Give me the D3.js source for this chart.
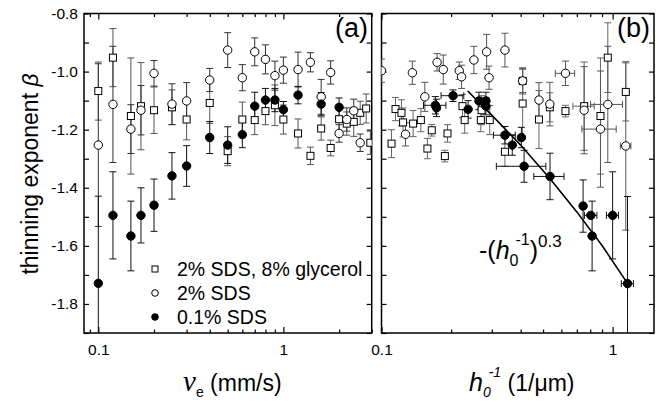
<!DOCTYPE html>
<html>
<head>
<meta charset="utf-8">
<script src="https://cdn.jsdelivr.net/npm/d3@7"></script>
<style>
  body { margin: 0; background: #fff; }
  text { font-family: 'Liberation Sans', Arial, sans-serif; fill: #000; }
</style>
</head>
<body>
<div class="canvas"></div>
<script>
// tick values
const yTicks = [-1.8, -1.6, -1.4, -1.2, -1.0, -0.8];
const yMinor = [-1.9, -1.7, -1.5, -1.3, -1.1, -0.9];
const xMajor = [0.1, 1];
const xMinorA = [0.09, 0.2, 0.3, 0.4, 0.5, 0.6, 0.7, 0.8, 0.9, 2, 3];
const xMinorB = [0.2, 0.3, 0.4, 0.5, 0.6, 0.7, 0.8, 0.9];
const legendLabels = ['2% SDS, 8% glycerol', '2% SDS', '0.1% SDS'];

// panel (a): [v_e, beta, beta error]
const aGlycerol = [
  [0.1, -1.067, 0.10], [0.12, -0.952, 0.10], [0.15, -1.153, 0.20], [0.17, -1.119, 0.15],
  [0.2, -1.133, 0.08], [0.25, -1.123, 0.06], [0.3, -1.165, 0.07], [0.4, -1.108, 0.07],
  [0.5, -1.274, 0.05], [0.6, -1.165, 0.06], [0.7, -1.167, 0.05], [0.8, -1.136, 0.047],
  [0.9, -1.116, 0.07], [1.0, -1.165, 0.05], [1.2, -1.213, 0.05], [1.4, -1.290, 0.03],
  [1.6, -1.196, 0.04], [1.8, -1.263, 0.027], [2.0, -1.164, 0.04], [2.2, -1.179, 0.04],
  [2.4, -1.173, 0.05], [2.6, -1.142, 0.04], [2.8, -1.127, 0.05], [2.95, -1.245, 0.04]
];
const aSds2 = [
  [0.1, -1.253, 0.28], [0.12, -1.113, 0.2], [0.15, -1.198, 0.084], [0.17, -1.133, 0.085],
  [0.2, -1.006, 0.044], [0.25, -1.112, 0.07], [0.3, -1.101, 0.063], [0.4, -1.029, 0.04],
  [0.5, -0.926, 0.06], [0.6, -1.021, 0.045], [0.7, -0.932, 0.048], [0.8, -0.958, 0.05],
  [0.9, -1.014, 0.05], [1.0, -0.995, 0.045], [1.2, -0.993, 0.06], [1.4, -0.968, 0.033],
  [1.6, -1.087, 0.06], [1.8, -1.003, 0.04], [2.0, -1.213, 0.03], [2.2, -1.165, 0.04],
  [2.4, -1.135, 0.04], [2.6, -1.245, 0.03]
];
const aSds01 = [
  [0.1, -1.729, 0.3], [0.12, -1.495, 0.15], [0.15, -1.566, 0.12], [0.17, -1.495, 0.095],
  [0.2, -1.460, 0.09], [0.25, -1.359, 0.08], [0.3, -1.325, 0.07], [0.4, -1.227, 0.055],
  [0.5, -1.253, 0.063], [0.6, -1.217, 0.045], [0.7, -1.119, 0.048], [0.8, -1.098, 0.04],
  [0.9, -1.098, 0.04], [1.0, -1.131, 0.028], [1.2, -1.081, 0.03], [1.6, -1.112, 0.04],
  [2.0, -1.123, 0.032]
];

// panel (b): [1/h0, beta, beta error, 1/h0 error]
const bGlycerol = [
  [0.1105, -1.248, 0.048, 0], [0.115, -1.129, 0.04, 0], [0.122, -1.142, 0.045, 0],
  [0.124, -1.175, 0.05, 0], [0.137, -1.179, 0.045, 0], [0.148, -1.167, 0.04, 0],
  [0.158, -1.265, 0.035, 0], [0.165, -1.202, 0.02, 0], [0.188, -1.291, 0.02, 0],
  [0.193, -1.213, 0.03, 0], [0.224, -1.119, 0.04, 0], [0.229, -1.167, 0.045, 0],
  [0.269, -1.167, 0.04, 0], [0.271, -1.133, 0.05, 0], [0.294, -1.167, 0.05, 0],
  [0.342, -1.276, 0.05, 0], [0.408, -1.032, 0.04, 0], [0.408, -1.110, 0.12, 0],
  [0.48, -1.165, 0.1, 0], [0.535, -1.123, 0.05, 0], [0.625, -1.136, 0.02, 0],
  [0.753, -1.119, 0.152, 0.08], [0.886, -1.153, 0.2, 0], [0.953, -0.952, 0.12, 0],
  [1.14, -1.070, 0.1, 0]
];
const bSds2 = [
  [0.1, -0.997, 0.04, 0], [0.127, -1.216, 0.04, 0], [0.136, -1.004, 0.04, 0],
  [0.154, -1.087, 0.05, 0], [0.174, -0.968, 0.03, 0], [0.185, -0.993, 0.05, 0],
  [0.217, -0.997, 0.03, 0], [0.222, -1.018, 0.04, 0], [0.251, -0.960, 0.047, 0],
  [0.285, -0.932, 0.06, 0], [0.292, -1.021, 0.04, 0], [0.342, -0.926, 0.058, 0],
  [0.408, -1.032, 0.045, 0], [0.48, -1.098, 0.06, 0], [0.535, -1.112, 0.075, 0],
  [0.625, -1.006, 0.042, 0.06], [0.753, -1.133, 0.15, 0], [0.886, -1.198, 0.2, 0.15],
  [0.953, -1.113, 0.2, 0.15], [1.14, -1.256, 0.29, 0.06]
];
const bSds01 = [
  [0.171, -1.116, 0.03, 0.019], [0.173, -1.125, 0.03, 0], [0.204, -1.083, 0.02, 0.023],
  [0.237, -1.130, 0.03, 0], [0.264, -1.101, 0.03, 0], [0.283, -1.101, 0.03, 0],
  [0.283, -1.119, 0.03, 0], [0.342, -1.219, 0.03, 0.037], [0.368, -1.253, 0.035, 0],
  [0.403, -1.227, 0.035, 0], [0.414, -1.326, 0.055, 0.1], [0.536, -1.361, 0.08, 0.08],
  [0.745, -1.463, 0.09, 0], [0.805, -1.495, 0, 0.05], [0.815, -1.566, 0.12, 0],
  [1.0, -1.495, 0.15, 0.06], [1.16, -1.730, 0.3, 0.07]
];
// fitted curve -(1/h0)^0.3
const fitCurve = [
  [0.236, -1.067], [0.3, -1.150], [0.4, -1.253], [0.535, -1.368],
  [0.7, -1.483], [0.9, -1.599], [1.16, -1.729]
];

const W = 659, H = 402;
const svg = d3.select('.canvas').append('svg').attr('width', W).attr('height', H);

const y = d3.scaleLinear().domain([-1.9, -0.8]).range([333, 13.5]);
const xA = d3.scaleLog().domain([0.0837, 3.0]).range([84, 371.7]);
const xB = d3.scaleLog().domain([0.1, 1.51]).range([381.5, 654]);

function drawFrame(x, id) {
  const [x0, x1] = x.range();
  const g = svg.append('g');
  // bottom major / minor
  g.append('g').attr('transform', `translate(0,333)`)
    .call(d3.axisBottom(x).tickValues(xMajor).tickSize(-6).tickPadding(11).tickFormat(d3.format('')))
    .call(s => s.selectAll('text').attr('font-size', 15.5).attr('font-family', 'Liberation Sans, Arial'));
  g.append('g').attr('transform', `translate(0,333)`)
    .call(d3.axisBottom(x).tickValues(id === 'a' ? xMinorA : xMinorB).tickSize(-3.5).tickFormat(''));
  // top
  g.append('g').attr('transform', `translate(0,13.5)`)
    .call(d3.axisTop(x).tickValues(xMajor).tickSize(-6).tickFormat(''));
  g.append('g').attr('transform', `translate(0,13.5)`)
    .call(d3.axisTop(x).tickValues(id === 'a' ? xMinorA : xMinorB).tickSize(-3.5).tickFormat(''));
  // left / right
  const left = g.append('g').attr('transform', `translate(${x0},0)`)
    .call(d3.axisLeft(y).tickValues(yTicks).tickSize(-5).tickPadding(6)
      .tickFormat(id === 'a' ? d3.format('.1f') : ''));
  left.selectAll('text').attr('font-size', 15.5).text(d => id === 'a' ? d3.format('.1f')(d).replace('−', '-') : '');
  g.append('g').attr('transform', `translate(${x0},0)`)
    .call(d3.axisLeft(y).tickValues(yMinor).tickSize(-5).tickFormat(''));
  g.append('g').attr('transform', `translate(${x1},0)`)
    .call(d3.axisRight(y).tickValues(yTicks.concat(yMinor)).tickSize(-5).tickFormat(''));
  g.selectAll('.domain').remove();
  g.selectAll('.tick line').attr('stroke', '#000').attr('stroke-width', 1.2);
  g.append('rect').attr('x', x0).attr('y', 13.5).attr('width', x1 - x0).attr('height', 333 - 13.5)
    .attr('fill', 'none').attr('stroke', '#000').attr('stroke-width', 1.5);

  svg.append('clipPath').attr('id', 'clip-' + id).append('rect')
    .attr('x', x0).attr('y', 13.5).attr('width', x1 - x0).attr('height', 333 - 13.5);
  return svg.append('g').attr('clip-path', `url(#clip-${id})`);
}

const gA = drawFrame(xA, 'a');
const gB = drawFrame(xB, 'b');

const cap = 3.5;
function errorBars(g, x, data, color) {
  const eg = g.append('g').attr('stroke', color).attr('stroke-width', 1).attr('fill', 'none');
  data.forEach(d => {
    const cx = x(d[0]);
    if (d[2] > 0) {
      const yt = y(d[1] + d[2]), yb = y(d[1] - d[2]);
      eg.append('line').attr('x1', cx).attr('x2', cx).attr('y1', yt).attr('y2', yb);
      eg.append('line').attr('x1', cx - cap).attr('x2', cx + cap).attr('y1', yt).attr('y2', yt);
      eg.append('line').attr('x1', cx - cap).attr('x2', cx + cap).attr('y1', yb).attr('y2', yb);
    }
    if (d[3] > 0) {
      const cy = y(d[1]), xl = x(d[0] - d[3]), xr = x(d[0] + d[3]);
      eg.append('line').attr('x1', xl).attr('x2', xr).attr('y1', cy).attr('y2', cy);
      eg.append('line').attr('x1', xl).attr('x2', xl).attr('y1', cy - cap).attr('y2', cy + cap);
      eg.append('line').attr('x1', xr).attr('x2', xr).attr('y1', cy - cap).attr('y2', cy + cap);
    }
  });
}

function squares(g, x, data) {
  g.append('g').selectAll('rect').data(data).enter().append('rect')
    .attr('x', d => x(d[0]) - 3.5).attr('y', d => y(d[1]) - 3.5)
    .attr('width', 7).attr('height', 7)
    .attr('fill', '#fff').attr('stroke', '#000').attr('stroke-width', 1);
}
function circles(g, x, data, filled) {
  g.append('g').selectAll('circle').data(data).enter().append('circle')
    .attr('cx', d => x(d[0])).attr('cy', d => y(d[1])).attr('r', 4.2)
    .attr('fill', filled ? '#000' : '#fff').attr('stroke', '#000').attr('stroke-width', 1);
}

// panel a
errorBars(gA, xA, aGlycerol, '#555');
errorBars(gA, xA, aSds2, '#333');
errorBars(gA, xA, aSds01, '#111');
squares(gA, xA, aGlycerol);
circles(gA, xA, aSds2, false);
circles(gA, xA, aSds01, true);

// panel b
errorBars(gB, xB, bGlycerol, '#666');
errorBars(gB, xB, bSds2, '#555');
errorBars(gB, xB, bSds01, '#111');
squares(gB, xB, bGlycerol);
circles(gB, xB, bSds2, false);
circles(gB, xB, bSds01, true);

gB.append('path').datum(fitCurve)
  .attr('d', d3.line().x(d => xB(d[0])).y(d => y(d[1])))
  .attr('fill', 'none').attr('stroke', '#000').attr('stroke-width', 1.6);

// panel labels
svg.append('text').attr('x', 368).attr('y', 37).attr('text-anchor', 'end')
  .attr('font-size', 27).text('(a)');
svg.append('text').attr('x', 650).attr('y', 37).attr('text-anchor', 'end')
  .attr('font-size', 27).text('(b)');

// legend
const legend = svg.append('g').attr('transform', 'translate(155,269)');
legendLabels.forEach((lab, i) => {
  const row = legend.append('g').attr('transform', `translate(0,${i * 24})`);
  if (i === 0) row.append('rect').attr('x', -3).attr('y', -3).attr('width', 6).attr('height', 6)
    .attr('fill', '#fff').attr('stroke', '#000');
  else row.append('circle').attr('r', 3.3).attr('fill', i === 2 ? '#000' : '#fff').attr('stroke', '#000');
  row.append('text').attr('x', 22).attr('y', 7).attr('font-size', 19.5).text(lab);
});

// fit annotation
const ann = svg.append('text').attr('x', 479).attr('y', 259).attr('font-size', 25);
ann.append('tspan').text('-(');
ann.append('tspan').attr('font-style', 'italic').text('h');
ann.append('tspan').attr('font-size', 16).attr('dy', 7).text('0');
ann.append('tspan').attr('font-size', 16).attr('dy', -21).attr('dx', -3).text('-1');
ann.append('tspan').attr('dy', 14).text(')');
ann.append('tspan').attr('font-size', 17).attr('dy', -12).text('0.3');

// y axis title
svg.append('text').attr('transform', 'translate(38,174) rotate(-90)')
  .attr('text-anchor', 'middle').attr('font-size', 23)
  .call(t => {
    t.append('tspan').text('thinning exponent ');
    t.append('tspan').attr('font-style', 'italic').text('β');
  });

// x axis titles
const tA = svg.append('text').attr('x', 183).attr('y', 391).attr('font-size', 23);
tA.append('tspan').attr('font-family', 'Liberation Serif, serif').attr('font-style', 'italic')
  .attr('font-size', 29).text('v');
tA.append('tspan').attr('font-size', 14).attr('dy', 6).text('e');
tA.append('tspan').attr('dy', -6).text(' (mm/s)');

const tB = svg.append('text').attr('x', 469).attr('y', 391).attr('font-size', 23);
tB.append('tspan').attr('font-style', 'italic').attr('font-size', 25).text('h');
tB.append('tspan').attr('font-style', 'italic').attr('font-size', 14).attr('dy', 6).text('0');
tB.append('tspan').attr('font-style', 'italic').attr('font-size', 14).attr('dy', -20).attr('dx', -2).text('-1');
tB.append('tspan').attr('dy', 14).text(' (1/μm)');
</script>
</body>
</html>
